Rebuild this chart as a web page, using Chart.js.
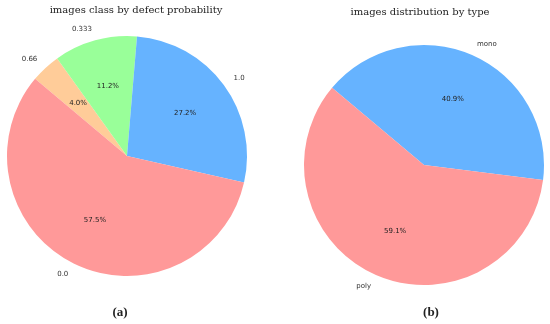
<!DOCTYPE html>
<html>
<head>
<meta charset="utf-8">
<script src="https://cdn.jsdelivr.net/npm/chart.js@4"></script>
<style>
  body { margin: 0; background: #fff; }
  #wrap { position: relative; width: 550px; height: 324px; overflow: hidden; }
  .box { position: absolute; top: 0; width: 275px; height: 324px; }
  .title { position: absolute; font-family: "DejaVu Serif", serif; font-size: 10px; color: #222; white-space: nowrap; transform: translateX(-50%); }
  .cap { position: absolute; font-family: "Liberation Serif", serif; font-size: 13px; font-weight: bold; color: #222; transform: translateX(-50%); }
</style>
</head>
<body>
<div id="wrap">
  <div class="box" style="left:0"><canvas id="pieA"></canvas></div>
  <div class="box" style="left:275px"><canvas id="pieB"></canvas></div>
  <div class="title" style="left:136px; top:4px">images class by defect probability</div>
  <div class="title" style="left:420px; top:6px">images distribution by type</div>
  <div class="cap" style="left:120px; top:304px">(a)</div>
  <div class="cap" style="left:431px; top:304px">(b)</div>
</div>
<script>
// left pie: probability classes (percent), drawn clockwise
const classLabels = ['0.66', '0.333', '1.0', '0.0'];
const classValues = [4.0, 11.2, 27.2, 57.5];
const classColors = ['#ffcc99', '#99ff99', '#66b3ff', '#ff9999'];

// right pie: panel type (percent)
const typeLabels = ['mono', 'poly'];
const typeValues = [40.9, 59.1];
const typeColors = ['#66b3ff', '#ff9999'];

// matplotlib-like labels: name at 1.1 r, percent at 0.6 r
const pieText = {
    id: 'pieText',
    afterDatasetsDraw(chart) {
        const ctx = chart.ctx;
        const meta = chart.getDatasetMeta(0);
        const ds = chart.data.datasets[0];
        ctx.save();
        ctx.font = '7px "DejaVu Sans"';
        ctx.textBaseline = 'middle';
        meta.data.forEach((arc, i) => {
            const p = arc.getProps(['x', 'y', 'startAngle', 'endAngle', 'outerRadius'], true);
            const mid = (p.startAngle + p.endAngle) / 2;
            const c = Math.cos(mid), s = Math.sin(mid);
            ctx.fillStyle = '#333';
            ctx.textAlign = c > 0 ? 'left' : 'right';
            ctx.fillText(chart.data.labels[i], p.x + c * p.outerRadius * 1.1, p.y + s * p.outerRadius * 1.1);
            ctx.fillStyle = '#222';
            ctx.textAlign = 'center';
            ctx.fillText(ds.data[i].toFixed(1) + '%', p.x + c * p.outerRadius * 0.6, p.y + s * p.outerRadius * 0.6);
        });
        ctx.restore();
    }
};

function makePie(id, labels, values, colors, pad) {
    return new Chart(document.getElementById(id), {
        type: 'pie',
        data: {
            labels: labels,
            datasets: [{ data: values, backgroundColor: colors, borderWidth: 0 }]
        },
        options: {
            responsive: true,
            maintainAspectRatio: false,
            animation: false,
            rotation: -50,
            layout: { padding: pad },
            plugins: { legend: { display: false }, tooltip: { enabled: false } }
        },
        plugins: [pieText]
    });
}

makePie('pieA', classLabels, classValues, classColors, { left: 7, right: 28, top: 36, bottom: 48 });
makePie('pieB', typeLabels, typeValues, typeColors, { left: 29, right: 6, top: 45, bottom: 39 });
</script>
</body>
</html>
